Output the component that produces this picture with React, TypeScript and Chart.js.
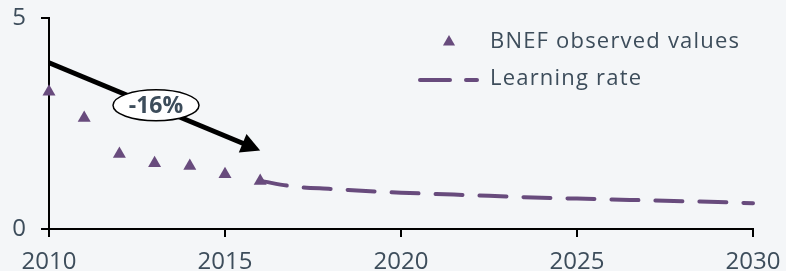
import React, { useEffect, useRef } from "react";
import { Chart, registerables } from "chart.js";

Chart.register(...registerables);

const observedYears = [2010, 2011, 2012, 2013, 2014, 2015, 2016];
const observedValues = [3.25, 2.63, 1.78, 1.56, 1.49, 1.3, 1.14];

const projectionYears = [2016, 2017, 2018, 2019, 2020, 2021, 2022, 2023, 2024, 2025, 2026, 2027, 2028, 2029, 2030];
const projectionValues = [1.14, 1.0, 0.95, 0.9, 0.86, 0.83, 0.8, 0.77, 0.74, 0.72, 0.7, 0.68, 0.66, 0.64, 0.61];

const xTicks = [2010, 2015, 2020, 2025, 2030];
const yTicks = [0, 5];

const legendLabels = ["BNEF observed values", "Learning rate"];

const arrowStart = { x: 2010, y: 3.94 };
const arrowEnd = { x: 2016.0, y: 1.86 };
const arrowLabel = "-16%";
const arrowLabelPos = { x: 2013.04, y: 2.93 };

const PURPLE = "#684b7d";
const TEXT = "#3d4d5b";
const BG = "#f4f6f8";
const FONT = "'Open Sans', 'Noto Sans', sans-serif";

const overlayPlugin = {
  id: "overlay",
  beforeDraw(chart: any) {
    const ctx = chart.ctx;
    ctx.save();
    ctx.fillStyle = BG;
    ctx.fillRect(0, 0, chart.width, chart.height);
    ctx.restore();
  },
  afterDatasetsDraw(chart: any) {
    const ctx = chart.ctx;
    const xs = chart.scales.x;
    const ys = chart.scales.y;
    const x0 = xs.getPixelForValue(arrowStart.x);
    const y0 = ys.getPixelForValue(arrowStart.y);
    const x1 = xs.getPixelForValue(arrowEnd.x);
    const y1 = ys.getPixelForValue(arrowEnd.y);
    const ang = Math.atan2(y1 - y0, x1 - x0);
    const headLen = 19;
    const headHalf = 10;
    ctx.save();
    ctx.strokeStyle = "#000";
    ctx.lineWidth = 5;
    ctx.lineCap = "butt";
    ctx.beginPath();
    ctx.moveTo(x0, y0);
    ctx.lineTo(x1 - Math.cos(ang) * (headLen - 2), y1 - Math.sin(ang) * (headLen - 2));
    ctx.stroke();
    const bx = x1 - Math.cos(ang) * headLen;
    const by = y1 - Math.sin(ang) * headLen;
    ctx.fillStyle = "#000";
    ctx.beginPath();
    ctx.moveTo(x1, y1);
    ctx.lineTo(bx + Math.sin(ang) * headHalf, by - Math.cos(ang) * headHalf);
    ctx.lineTo(bx - Math.sin(ang) * headHalf, by + Math.cos(ang) * headHalf);
    ctx.closePath();
    ctx.fill();
    const lx = xs.getPixelForValue(arrowLabelPos.x);
    const ly = ys.getPixelForValue(arrowLabelPos.y);
    ctx.beginPath();
    ctx.ellipse(lx, ly, 43, 15.5, 0, 0, Math.PI * 2);
    ctx.fillStyle = "#ffffff";
    ctx.fill();
    ctx.lineWidth = 1.5;
    ctx.strokeStyle = "#000";
    ctx.stroke();
    ctx.fillStyle = TEXT;
    ctx.font = `bold 23px ${FONT}`;
    ctx.textAlign = "center";
    ctx.textBaseline = "middle";
    ctx.fillText(arrowLabel, lx, ly + 1);
    ctx.restore();
  },
  afterDraw(chart: any) {
    const ctx = chart.ctx;
    ctx.save();
    ctx.fillStyle = PURPLE;
    const tx = 449;
    const ty = 42;
    const r = 7;
    ctx.beginPath();
    ctx.moveTo(tx, ty - r);
    ctx.lineTo(tx + r * Math.cos(Math.PI / 6), ty + r / 2);
    ctx.lineTo(tx - r * Math.cos(Math.PI / 6), ty + r / 2);
    ctx.closePath();
    ctx.fill();
    ctx.strokeStyle = PURPLE;
    ctx.lineWidth = 4;
    ctx.lineCap = "round";
    ctx.beginPath();
    ctx.moveTo(420, 80);
    ctx.lineTo(450, 80);
    ctx.moveTo(466, 80);
    ctx.lineTo(477, 80);
    ctx.stroke();
    ctx.fillStyle = TEXT;
    ctx.font = `22px ${FONT}`;
    (ctx as any).letterSpacing = "1.2px";
    ctx.textAlign = "left";
    ctx.textBaseline = "middle";
    ctx.fillText(legendLabels[0], 490, 42);
    ctx.fillText(legendLabels[1], 490, 79);
    ctx.restore();
  },
};

export default function App() {
  const ref = useRef<HTMLCanvasElement>(null);
  useEffect(() => {
    if (!ref.current) return;
    const chart = new Chart(ref.current, {
      type: "scatter",
      data: {
        datasets: [
          {
            type: "line",
            label: legendLabels[1],
            data: projectionYears.map((x, i) => ({ x, y: projectionValues[i] })),
            borderColor: PURPLE,
            borderWidth: 4,
            borderDash: [27, 17],
            borderCapStyle: "round",
            pointRadius: 0,
            tension: 0.3,
            fill: false,
            clip: false,
          } as any,
          {
            label: legendLabels[0],
            data: observedYears.map((x, i) => ({ x, y: observedValues[i] })),
            pointStyle: "triangle",
            pointRadius: 7.5,
            backgroundColor: PURPLE,
            borderColor: PURPLE,
            borderWidth: 0,
            clip: false,
          } as any,
        ],
      },
      options: {
        animation: false,
        responsive: false,
        maintainAspectRatio: false,
        layout: { padding: { top: 18, right: 33, left: 0, bottom: 0 } },
        plugins: { legend: { display: false }, tooltip: { enabled: false } },
        scales: {
          x: {
            type: "linear",
            min: 2010,
            max: 2030,
            afterBuildTicks: (s: any) => {
              s.ticks = xTicks.map((v) => ({ value: v }));
            },
            afterFit: (s: any) => {
              s.height = 42;
              s.paddingLeft = 0;
              s.paddingRight = 0;
            },
            ticks: {
              color: TEXT,
              font: { family: FONT, size: 24 },
              padding: 11,
              maxRotation: 0,
              callback: (v: any) => String(v),
            },
            grid: { display: true, drawOnChartArea: false, drawTicks: true, tickLength: 8, color: "#000", lineWidth: 2 },
            border: { display: true, color: "#000", width: 2 },
          },
          y: {
            type: "linear",
            min: 0,
            max: 5,
            afterBuildTicks: (s: any) => {
              s.ticks = yTicks.map((v) => ({ value: v }));
            },
            afterFit: (s: any) => {
              s.width = 49;
              s.paddingTop = 0;
              s.paddingBottom = 0;
            },
            ticks: {
              color: TEXT,
              font: { family: FONT, size: 24 },
              padding: 15,
              callback: (v: any) => String(v),
            },
            grid: { display: true, drawOnChartArea: false, drawTicks: true, tickLength: 8, color: "#000", lineWidth: 2 },
            border: { display: true, color: "#000", width: 2 },
          },
        },
      },
      plugins: [overlayPlugin],
    });
    return () => chart.destroy();
  }, []);
  return (
    <div style={{ position: "fixed", left: 0, top: 0, width: 786, height: 271, background: BG }}>
      <canvas ref={ref} width={786} height={271} style={{ width: 786, height: 271, display: "block" }} />
    </div>
  );
}
